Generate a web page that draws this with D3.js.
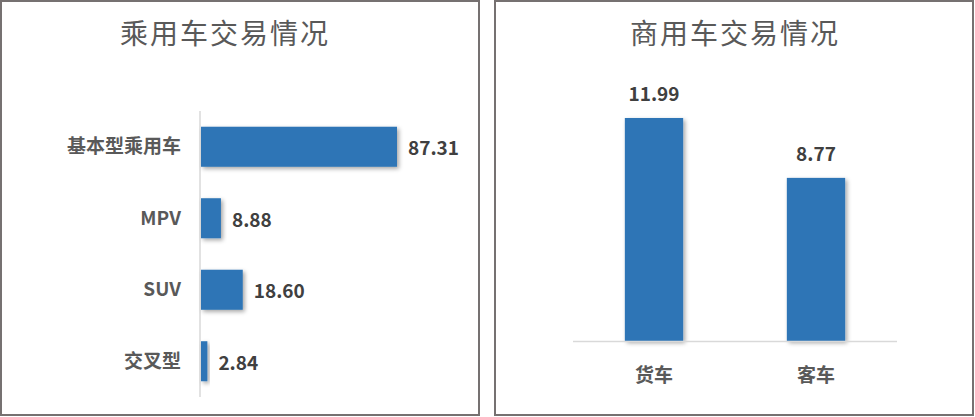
<!DOCTYPE html>
<html>
<head>
<meta charset="utf-8">
<script src="https://cdn.jsdelivr.net/npm/d3@7"></script>
<style>
  body { margin: 0; background: #fff; }
  svg { display: block; }
</style>
</head>
<body>
<div class="container"></div>
<script>
// passenger cars
const carTypes = ['基本型乘用车', 'MPV', 'SUV', '交叉型'];
const carValues = [87.31, 8.88, 18.60, 2.84];
// commercial vehicles
const truckTypes = ['货车', '客车'];
const truckValues = [11.99, 8.77];

const titles = ['乘用车交易情况', '商用车交易情况'];

const W = 975, H = 417;
const barColor = '#2E75B6';
const labelFont = '"Noto Sans CJK SC", "Open Sans", sans-serif';

const svg = d3.select('.container')
  .append('svg')
  .attr('width', W)
  .attr('height', H);

const defs = svg.append('defs');
const shadow = defs.append('filter')
  .attr('id', 'shadow')
  .attr('x', '-20%').attr('y', '-20%')
  .attr('width', '150%').attr('height', '150%');
shadow.append('feDropShadow')
  .attr('dx', 2).attr('dy', 2)
  .attr('stdDeviation', 2)
  .attr('flood-color', '#000')
  .attr('flood-opacity', 0.35);

// panel frames
svg.append('rect')
  .attr('x', 1).attr('y', 1)
  .attr('width', 478).attr('height', 414)
  .attr('fill', 'none').attr('stroke', '#767171').attr('stroke-width', 2);
svg.append('rect')
  .attr('x', 495).attr('y', 1)
  .attr('width', 478).attr('height', 414)
  .attr('fill', 'none').attr('stroke', '#767171').attr('stroke-width', 2);

// titles
svg.selectAll('.title')
  .data(titles)
  .enter()
  .append('text')
  .attr('class', 'title')
  .attr('x', function(d, i){ return i === 0 ? 225 : 735; })
  .attr('y', 44)
  .attr('text-anchor', 'middle')
  .attr('font-family', '"Noto Sans CJK SC", sans-serif')
  .attr('font-size', '28px')
  .attr('letter-spacing', '2px')
  .attr('fill', '#595959')
  .text(function(d){ return d; });

// ---- left: horizontal bars ----
const yLeft = d3.scaleBand()
  .domain(carTypes)
  .range([111, 397])
  .paddingInner(0.44)
  .paddingOuter(0.22);

const xLeft = d3.scaleLinear()
  .domain([0, 87.31])
  .range([201, 397]);

const carData = carTypes.map(function(c, i){ return {type: c, value: carValues[i]}; });

svg.append('line')
  .attr('x1', 200).attr('x2', 200)
  .attr('y1', 111).attr('y2', 397)
  .attr('stroke', '#d9d9d9').attr('stroke-width', 1.5);

svg.append('g')
  .selectAll('rect')
  .data(carData)
  .enter()
  .append('rect')
  .attr('x', xLeft(0))
  .attr('y', function(d){ return yLeft(d.type); })
  .attr('width', function(d){ return xLeft(d.value) - xLeft(0); })
  .attr('height', yLeft.bandwidth())
  .attr('fill', barColor)
  .attr('filter', 'url(#shadow)');

svg.append('g')
  .selectAll('text')
  .data(carData)
  .enter()
  .append('text')
  .attr('x', 181)
  .attr('y', function(d){ return yLeft(d.type) + yLeft.bandwidth() / 2; })
  .attr('dy', '0.35em')
  .attr('text-anchor', 'end')
  .attr('font-family', labelFont)
  .attr('font-size', '19px')
  .attr('font-weight', 'bold')
  .attr('fill', '#595959')
  .text(function(d){ return d.type; });

svg.append('g')
  .selectAll('text')
  .data(carData)
  .enter()
  .append('text')
  .attr('x', function(d){ return xLeft(d.value) + 11; })
  .attr('y', function(d){ return yLeft(d.type) + yLeft.bandwidth() / 2 + 2; })
  .attr('dy', '0.35em')
  .attr('font-family', labelFont)
  .attr('font-size', '19px')
  .attr('font-weight', 'bold')
  .attr('fill', '#404040')
  .text(function(d){ return d3.format('.2f')(d.value); });

// ---- right: vertical bars ----
const xRight = d3.scaleBand()
  .domain(truckTypes)
  .range([573, 897])
  .paddingInner(0.64)
  .paddingOuter(0.32);

const yRight = d3.scaleLinear()
  .domain([0, 12])
  .range([341, 117.8]);

const truckData = truckTypes.map(function(c, i){ return {type: c, value: truckValues[i]}; });

svg.append('g')
  .selectAll('rect')
  .data(truckData)
  .enter()
  .append('rect')
  .attr('x', function(d){ return xRight(d.type); })
  .attr('y', function(d){ return yRight(d.value); })
  .attr('width', xRight.bandwidth())
  .attr('height', function(d){ return yRight(0) - yRight(d.value); })
  .attr('fill', barColor)
  .attr('filter', 'url(#shadow)');

svg.append('line')
  .attr('x1', 573).attr('x2', 897)
  .attr('y1', 341.5).attr('y2', 341.5)
  .attr('stroke', '#d9d9d9').attr('stroke-width', 1.5);

svg.append('g')
  .selectAll('text')
  .data(truckData)
  .enter()
  .append('text')
  .attr('x', function(d){ return xRight(d.type) + xRight.bandwidth() / 2; })
  .attr('y', 382)
  .attr('text-anchor', 'middle')
  .attr('font-family', labelFont)
  .attr('font-size', '19px')
  .attr('font-weight', 'bold')
  .attr('fill', '#595959')
  .text(function(d){ return d.type; });

svg.append('g')
  .selectAll('text')
  .data(truckData)
  .enter()
  .append('text')
  .attr('x', function(d){ return xRight(d.type) + xRight.bandwidth() / 2; })
  .attr('y', function(d){ return yRight(d.value) - 17; })
  .attr('text-anchor', 'middle')
  .attr('font-family', labelFont)
  .attr('font-size', '19px')
  .attr('font-weight', 'bold')
  .attr('fill', '#404040')
  .text(function(d){ return d3.format('.2f')(d.value); });
</script>
</body>
</html>
